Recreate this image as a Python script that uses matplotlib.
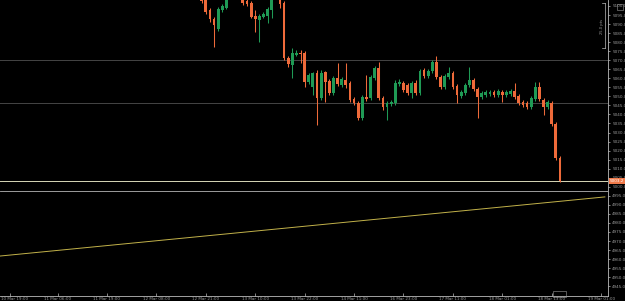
import matplotlib
matplotlib.use("Agg")
import matplotlib.pyplot as plt
from matplotlib.patches import Rectangle
import matplotlib.transforms as mtransforms
import numpy as np

# ---- data (hourly candles, index = bar number) ----
idx = list(range(48, 136))
opens = [5106.1, 5104.4, 5097.8, 5092.8, 5087.3, 5097.8, 5098.9, 5106.1, 5114.4, 5108.8,
         5104.4, 5102.7, 5101.6, 5094.5, 5092.2, 5093.9, 5094.5, 5097.8, 5107.7, 5104.4,
         5101.6, 5071.2, 5067.4, 5072.9, 5074.0, 5074.0, 5057.9, 5055.2, 5062.9, 5049.1,
         5063.5, 5058.5, 5051.9, 5060.2, 5056.3, 5059.1, 5057.4, 5048.5, 5046.3, 5038.0,
         5049.7, 5049.1, 5060.2, 5065.7, 5049.1, 5044.1, 5045.8, 5046.3, 5056.8, 5057.4,
         5056.3, 5051.9, 5057.4, 5051.9, 5064.6, 5061.3, 5064.0, 5069.0, 5060.7, 5055.2,
         5060.7, 5062.9, 5055.7, 5050.2, 5051.9, 5056.3, 5059.1, 5054.1, 5049.7, 5050.8,
         5051.3, 5052.4, 5050.8, 5052.4, 5050.8, 5051.3, 5053.0, 5050.2, 5046.9, 5046.3,
         5044.1, 5048.5, 5055.2, 5048.0, 5044.1, 5046.3, 5034.7, 5015.9]
highs = [5108.8, 5106.1, 5098.9, 5093.9, 5099.4, 5101.1, 5108.8, 5117.1, 5117.1, 5111.6,
         5106.1, 5103.9, 5102.7, 5097.8, 5095.6, 5096.7, 5099.4, 5109.9, 5111.6, 5106.1,
         5102.7, 5072.3, 5076.8, 5075.7, 5075.7, 5075.1, 5062.9, 5063.5, 5064.6, 5064.6,
         5064.0, 5059.6, 5061.3, 5068.5, 5060.7, 5068.5, 5058.5, 5049.7, 5047.4, 5050.8,
         5061.8, 5061.8, 5066.8, 5069.0, 5050.2, 5047.4, 5048.0, 5059.1, 5059.6, 5058.5,
         5057.4, 5058.5, 5059.1, 5065.1, 5065.7, 5065.1, 5070.1, 5072.3, 5061.8, 5062.4,
         5066.2, 5064.0, 5056.8, 5053.5, 5057.4, 5066.2, 5060.2, 5055.2, 5053.0, 5053.5,
         5053.5, 5053.5, 5054.1, 5053.5, 5053.5, 5054.1, 5057.4, 5051.3, 5048.0, 5047.4,
         5050.2, 5057.9, 5057.9, 5049.1, 5048.0, 5047.4, 5035.8, 5017.0]
lows = [5101.6, 5095.6, 5091.1, 5077.3, 5086.2, 5096.7, 5098.3, 5105.0, 5106.1, 5103.9,
        5100.5, 5100.0, 5093.3, 5085.6, 5080.1, 5093.3, 5090.6, 5093.3, 5103.9, 5098.9,
        5070.1, 5066.2, 5060.2, 5072.3, 5068.5, 5055.2, 5056.8, 5050.8, 5034.2, 5048.0,
        5046.9, 5050.8, 5050.8, 5055.7, 5055.2, 5054.6, 5046.9, 5045.2, 5036.9, 5036.9,
        5047.4, 5048.0, 5059.1, 5048.0, 5042.5, 5036.9, 5044.7, 5045.2, 5055.7, 5052.4,
        5050.8, 5049.1, 5050.8, 5050.8, 5060.2, 5060.2, 5062.9, 5059.6, 5054.1, 5054.1,
        5059.6, 5054.1, 5046.3, 5049.1, 5050.8, 5055.2, 5053.0, 5038.0, 5048.5, 5049.7,
        5050.2, 5049.7, 5049.7, 5046.9, 5049.7, 5050.2, 5048.5, 5045.2, 5044.1, 5043.0,
        5043.0, 5047.4, 5047.4, 5039.7, 5043.0, 5033.6, 5014.8, 5002.7]
closes = [5102.7, 5096.7, 5092.8, 5089.5, 5098.3, 5100.0, 5106.1, 5114.4, 5108.8, 5105.0,
          5101.6, 5101.1, 5093.9, 5092.8, 5094.5, 5095.6, 5098.3, 5107.7, 5105.0, 5101.1,
          5071.2, 5067.9, 5074.0, 5074.0, 5073.4, 5057.9, 5061.8, 5062.9, 5049.1, 5062.9,
          5057.9, 5051.9, 5060.2, 5056.8, 5059.6, 5056.3, 5048.0, 5046.3, 5038.0, 5049.7,
          5048.5, 5060.7, 5065.7, 5049.1, 5044.1, 5046.3, 5046.9, 5057.4, 5057.9, 5053.5,
          5051.9, 5057.4, 5051.9, 5064.0, 5061.3, 5064.0, 5069.0, 5060.7, 5055.2, 5061.3,
          5062.9, 5055.2, 5050.8, 5052.4, 5056.3, 5059.1, 5054.1, 5049.7, 5051.9, 5052.4,
          5052.4, 5050.8, 5053.0, 5050.8, 5052.4, 5053.0, 5049.7, 5046.3, 5045.2, 5044.1,
          5049.1, 5055.2, 5048.5, 5044.1, 5046.9, 5034.7, 5015.9, 5003.2]

level_lines = [5070.1, 5046.3]
current_price = 5003.2
lower_line = 4997.7
trend_x = [-0.98, 145.9]
trend_y = [4961.7, 4994.4]

xtick_pos = [1.5, 13, 25, 37, 49, 61, 73, 85, 97, 109, 121, 133, 145]
xtick_labels = ["10 Mar 19:00", "11 Mar 06:00", "11 Mar 19:00", "12 Mar 08:00",
                "12 Mar 21:00", "13 Mar 10:00", "13 Mar 22:00", "14 Mar 11:00",
                "16 Mar 23:00", "17 Mar 11:00", "18 Mar 01:00", "18 Mar 13:00",
                "19 Mar 01:00"]
ytick_vals = [5100.0 - 5.0 * i for i in range(32)]

# ---- figure ----
W, H = 625, 301
fig = plt.figure(figsize=(W / 100, H / 100), dpi=100, facecolor="black")
ax = fig.add_axes([0, 5 / H, 608 / W, 296 / H], facecolor="black")

up_c = "#1f9a55"
dn_c = "#ee6a3a"
o = np.array(opens); h = np.array(highs); l = np.array(lows); c = np.array(closes)
x = np.array(idx)
cols = [up_c if cc >= oo else dn_c for oo, cc in zip(o, c)]
ax.vlines(x, l, h, colors=cols, linewidth=0.75, zorder=3)
body_lo = np.minimum(o, c)
body_h = np.maximum(np.abs(c - o), 0.4)
ax.bar(x, body_h, bottom=body_lo, width=0.68, color=cols, linewidth=0, zorder=4)

for lv in level_lines:
    ax.axhline(lv, color="#454545", linewidth=0.7, zorder=1)
ax.axhline(current_price, color="#d8d8b8", linewidth=0.7, zorder=2)
ax.axhline(lower_line, color="#b5b5b5", linewidth=0.6, zorder=2)
ax.plot(trend_x, trend_y, color="#c2b24a", linewidth=0.7, zorder=2)

ax.set_xlim(-0.98, 146.66)
ax.set_ylim(4939.6, 5103.3)

# axes styling
for s in ["top", "left"]:
    ax.spines[s].set_visible(False)
ax.spines["right"].set_color("#bbbbbb")
ax.spines["bottom"].set_color("#bbbbbb")
ax.spines["right"].set_linewidth(0.6)
ax.spines["bottom"].set_linewidth(0.6)
ax.yaxis.tick_right()
ax.set_yticks(ytick_vals)
ax.set_yticklabels([f"{v:.1f}" for v in ytick_vals])
ax.set_xticks(xtick_pos)
ax.set_xticklabels([""] + xtick_labels[1:])
ax.tick_params(axis="y", colors="#bbbbbb", labelcolor="#9a9a9a", labelsize=3.0,
               length=1.5, width=0.5, pad=1.5, direction="out")
ax.tick_params(axis="x", colors="#bbbbbb", labelcolor="#9a9a9a", labelsize=3.0,
               length=2, width=0.5, pad=0.5, direction="in")
# first time label kept inside the figure, starting at the left edge
ax.text(0.001, -0.5 / 296, xtick_labels[0], transform=ax.transAxes, fontsize=3.0,
        color="#9a9a9a", ha="left", va="top", clip_on=False)

# current price label on the right axis
trans = mtransforms.blended_transform_factory(ax.transAxes, ax.transData)
ax.text(1.003, current_price, f"{current_price:.1f}", transform=trans, fontsize=3.0,
        color="white", va="center", ha="left",
        bbox=dict(boxstyle="square,pad=0.25", fc="#f07a4a", ec="none"), clip_on=False)

# measurement bracket top-right
fig.add_artist(plt.Line2D([605 / W, 605 / W], [1 - 3 / H, 1 - 48 / H],
                          color="#bbbbbb", linewidth=0.5))
fig.add_artist(plt.Line2D([602 / W, 605 / W], [1 - 3 / H, 1 - 3 / H],
                          color="#bbbbbb", linewidth=0.5))
fig.add_artist(plt.Line2D([602 / W, 605 / W], [1 - 48 / H, 1 - 48 / H],
                          color="#bbbbbb", linewidth=0.5))
fig.text(601.5 / W, 1 - 26 / H, "25.0 pts", rotation=90, fontsize=2.6,
         color="#9a9a9a", ha="center", va="center")
fig.add_artist(Rectangle((617 / W, 1 - 10 / H), 6 / W, 6 / H, fill=False,
                         ec="#9a9a9a", lw=0.4))
fig.add_artist(Rectangle((553 / W, 1 - 297 / H), 13 / W, 6 / H, fill=False,
                         ec="#9a9a9a", lw=0.4))

fig.savefig("out.png", dpi=100, facecolor="black")
